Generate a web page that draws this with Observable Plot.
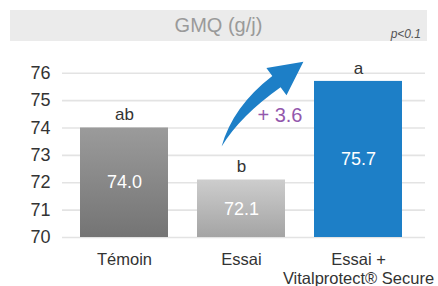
<!DOCTYPE html>
<html><head><meta charset="utf-8">
<script src="https://cdn.jsdelivr.net/npm/d3@7"></script>
<script src="https://cdn.jsdelivr.net/npm/@observablehq/plot@0.6"></script>
<style>
body{margin:0;background:#fff;}
#wrap{position:relative;width:438px;height:286px;font-family:"Liberation Sans",Arial,sans-serif;overflow:hidden;}
#chart{position:absolute;left:0;top:0;}
#band{position:absolute;left:10px;top:10px;width:417px;height:31px;background:#ebebeb;}
#title{position:absolute;left:0;width:417px;top:4px;text-align:center;font-size:20px;color:#9a9a9a;}
#pval{position:absolute;right:6px;top:17px;font-size:12px;font-style:italic;color:#555;}
</style></head>
<body>
<div id="wrap">
  <div id="chart"></div>
  <div id="band"><div id="title">GMQ (g/j)</div><div id="pval">p&lt;0.1</div></div>
</div>
<script>
const categories = ["Témoin", "Essai", "Essai +\nVitalprotect® Secure"];
const values = [74.0, 72.1, 75.7];
const letters = ["ab", "b", "a"];
const yTicks = [70, 71, 72, 73, 74, 75, 76];
const baseline = 70;
const gain = 3.6;

const data = categories.map((c, i) => ({cat: c, value: values[i], letter: letters[i]}));
const fills = ["url(#g0)", "url(#g1)", "#1d7fc7"];
const font = "Liberation Sans, Arial, sans-serif";

const chart = Plot.plot({
  width: 438,
  height: 286,
  marginTop: 72.7,
  marginBottom: 49,
  marginLeft: 62,
  marginRight: 13,
  style: {fontFamily: font, background: "transparent", overflow: "visible"},
  x: {domain: categories, range: [79, 402], paddingInner: 0.25, paddingOuter: 0, axis: null},
  y: {domain: [70, 76], axis: null},
  color: {domain: categories, range: fills},
  marks: [
    Plot.ruleY(yTicks, {stroke: "#e3e3e3", strokeWidth: 1.6}),
    Plot.barY(data, {x: "cat", y1: () => baseline, y2: "value", fill: "cat"}),
    Plot.axisY(yTicks, {tickSize: 0, tickPadding: 12, fontSize: 18, fill: "#333", label: null}),
    Plot.axisX({tickSize: 0, tickPadding: 15, fontSize: 16.5, fill: "#333", lineHeight: 1.1, label: null}),
    Plot.text(data, {x: "cat", y: "value", text: "letter", dy: -13, fontSize: 17, fill: "#333"}),
    Plot.text(data, {x: "cat", y: d => (baseline + d.value) / 2, text: d => d.value.toFixed(1), fill: "white", fontSize: 18}),
    Plot.text([gain], {x: () => categories[2], y: () => 74.45, text: d => "+ " + d.toFixed(1), textAnchor: "end", dx: -56, fontSize: 20, fill: "#9358ad"})
  ]
});
document.getElementById("chart").appendChild(chart);

const svg = d3.select(chart);
svg.insert("defs", ":first-child").html(`
  <linearGradient id="g0" x1="0" y1="0" x2="0" y2="1">
    <stop offset="0" stop-color="#9b9b9b"/><stop offset="1" stop-color="#747474"/>
  </linearGradient>
  <linearGradient id="g1" x1="0" y1="0" x2="0" y2="1">
    <stop offset="0" stop-color="#cdcdcd"/><stop offset="1" stop-color="#a4a4a4"/>
  </linearGradient>`);

// Curved arrow drawn through Plot's scales
const sx = chart.scale("x"), sy = chart.scale("y");
const bw = sx.bandwidth;
const T = [sx.apply(categories[1]) + bw * 0.28, sy.apply(73.3)];
const P = [sx.apply(categories[2]) - bw * 0.12, sy.apply(76.4)];
const H = [P[0] - 27, P[1] + 20];
const dir = [0.80, -0.59], perp = [0.59, 0.80];
const C = [H[0] - dir[0] * 50, H[1] - dir[1] * 50];
const sw = 7, hw = 17;
const L = [H[0] + perp[0] * sw, H[1] + perp[1] * sw];
const U = [H[0] - perp[0] * sw, H[1] - perp[1] * sw];
const BR = [H[0] + perp[0] * hw, H[1] + perp[1] * hw];
const BL = [H[0] - perp[0] * hw, H[1] - perp[1] * hw];
const CL = [C[0] + perp[0] * 6, C[1] + perp[1] * 6];
const CU = [C[0] - perp[0] * 6, C[1] - perp[1] * 6];
const p = (a) => a[0].toFixed(1) + "," + a[1].toFixed(1);
svg.append("path")
  .attr("d", `M${p(T)} Q${p(CL)} ${p(L)} L${p(BR)} L${p(P)} L${p(BL)} L${p(U)} Q${p(CU)} ${p(T)} Z`)
  .attr("fill", "#1d7fc7");
</script>
</body></html>
